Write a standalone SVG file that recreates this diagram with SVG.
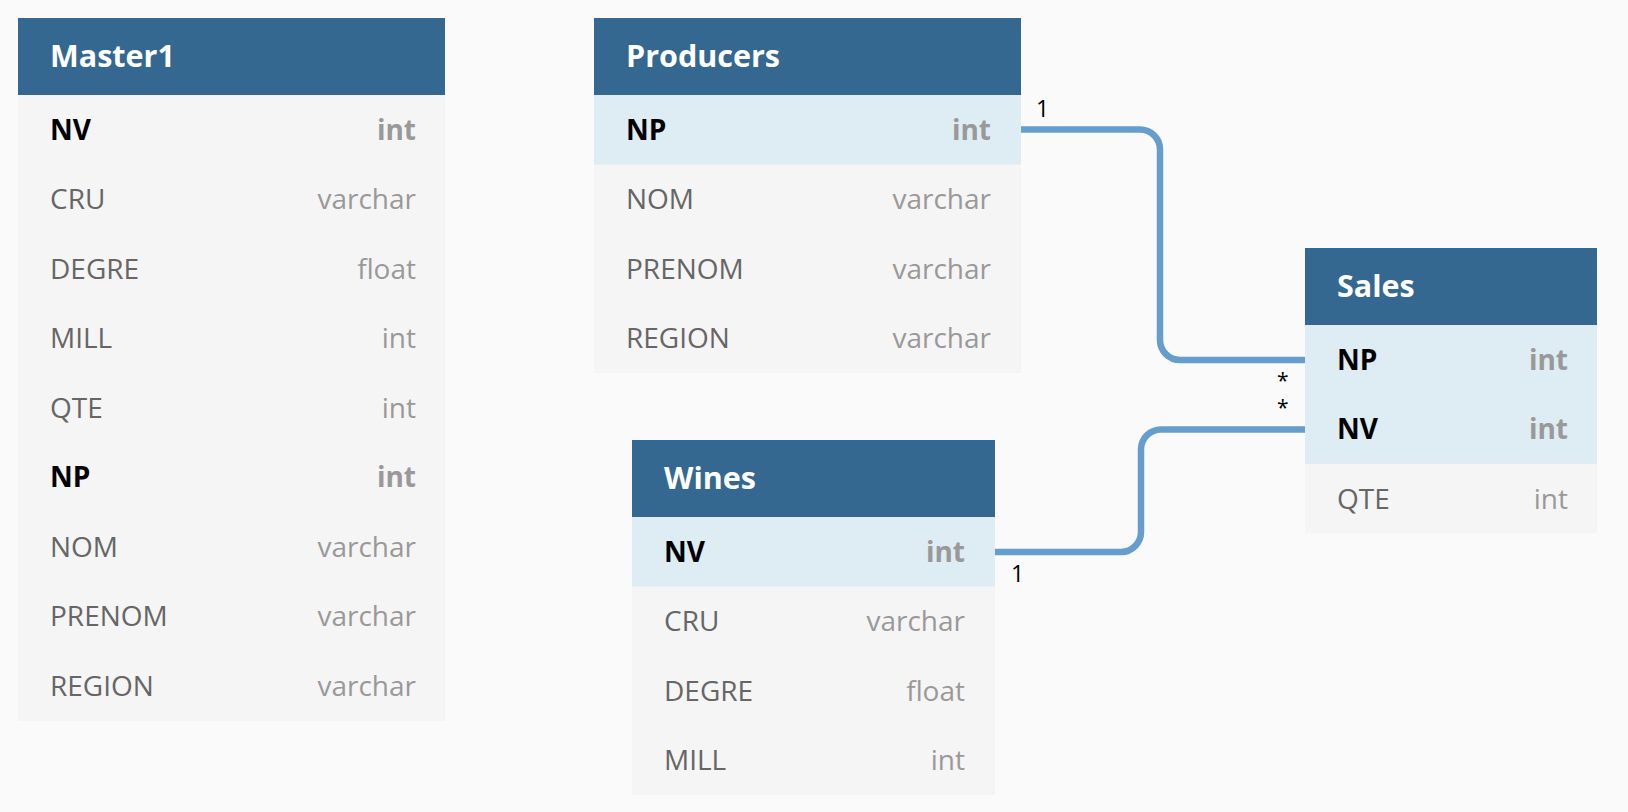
<svg xmlns="http://www.w3.org/2000/svg" width="1628" height="812" viewBox="0 0 1628 812">
<style>
.hdr{fill:#346891}
.row{fill:#f5f5f5}
.key{fill:#deecf4}
.title{font-family:"Open Sans","Noto Sans",sans-serif;font-weight:700;font-size:30.5px;fill:#ffffff}
.fn{font-family:"Open Sans","Noto Sans",sans-serif;font-size:28px;fill:#666666}
.fk{font-family:"Open Sans","Noto Sans",sans-serif;font-size:28px;font-weight:700;fill:#000000}
.tn{font-family:"Open Sans","Noto Sans",sans-serif;font-size:28px;fill:#999999;text-anchor:end}
.tk{font-family:"Open Sans","Noto Sans",sans-serif;font-size:28px;font-weight:700;fill:#999999;text-anchor:end}
.conn{fill:none;stroke:#659ecc;stroke-width:6.5}
.lbl{font-family:"Open Sans","Noto Sans",sans-serif;font-size:23px;fill:#000000}
.ast{font-family:"Open Sans","Noto Sans",sans-serif;font-size:21px;fill:#000000}
</style>
<rect x="0" y="0" width="1628" height="812" fill="#fafafa"/>

<g id="Master1">
<rect x="18" y="95" width="427" height="626" class="row"/>
<rect x="18" y="18" width="427" height="77" class="hdr"/>
<text x="50" y="66.5" class="title">Master1</text>
<text x="50" y="139.75" class="fk">NV</text><text x="416" y="139.75" class="tk">int</text>
<text x="50" y="209.25" class="fn">CRU</text><text x="416" y="209.25" class="tn">varchar</text>
<text x="50" y="278.75" class="fn">DEGRE</text><text x="416" y="278.75" class="tn">float</text>
<text x="50" y="348.25" class="fn">MILL</text><text x="416" y="348.25" class="tn">int</text>
<text x="50" y="417.75" class="fn">QTE</text><text x="416" y="417.75" class="tn">int</text>
<text x="50" y="487.25" class="fk">NP</text><text x="416" y="487.25" class="tk">int</text>
<text x="50" y="556.75" class="fn">NOM</text><text x="416" y="556.75" class="tn">varchar</text>
<text x="50" y="626.25" class="fn">PRENOM</text><text x="416" y="626.25" class="tn">varchar</text>
<text x="50" y="695.75" class="fn">REGION</text><text x="416" y="695.75" class="tn">varchar</text>
</g>

<g id="Producers">
<rect x="594" y="95" width="427" height="278" class="row"/>
<rect x="594" y="95" width="427" height="69.5" class="key"/>
<rect x="594" y="18" width="427" height="77" class="hdr"/>
<text x="626" y="66.5" class="title">Producers</text>
<text x="626" y="139.75" class="fk">NP</text><text x="991" y="139.75" class="tk">int</text>
<text x="626" y="209.25" class="fn">NOM</text><text x="991" y="209.25" class="tn">varchar</text>
<text x="626" y="278.75" class="fn">PRENOM</text><text x="991" y="278.75" class="tn">varchar</text>
<text x="626" y="348.25" class="fn">REGION</text><text x="991" y="348.25" class="tn">varchar</text>
</g>

<g id="Wines">
<rect x="632" y="517" width="363" height="278" class="row"/>
<rect x="632" y="517" width="363" height="69.5" class="key"/>
<rect x="632" y="440" width="363" height="77" class="hdr"/>
<text x="664" y="488.5" class="title">Wines</text>
<text x="664" y="561.75" class="fk">NV</text><text x="965" y="561.75" class="tk">int</text>
<text x="664" y="631.25" class="fn">CRU</text><text x="965" y="631.25" class="tn">varchar</text>
<text x="664" y="700.75" class="fn">DEGRE</text><text x="965" y="700.75" class="tn">float</text>
<text x="664" y="770.25" class="fn">MILL</text><text x="965" y="770.25" class="tn">int</text>
</g>

<g id="Sales">
<rect x="1305" y="325" width="292" height="208.5" class="row"/>
<rect x="1305" y="325" width="292" height="139" class="key"/>
<rect x="1305" y="248" width="292" height="77" class="hdr"/>
<text x="1337" y="296.5" class="title">Sales</text>
<text x="1337" y="369.75" class="fk">NP</text><text x="1568" y="369.75" class="tk">int</text>
<text x="1337" y="439.25" class="fk">NV</text><text x="1568" y="439.25" class="tk">int</text>
<text x="1337" y="508.75" class="fn">QTE</text><text x="1568" y="508.75" class="tn">int</text>
</g>

<g id="connectors">
<path class="conn" d="M1021,129.5 H1140 A20,20 0 0 1 1160,149.5 V340 A20,20 0 0 0 1180,360 H1305"/>
<path class="conn" d="M995,552 H1121 A20,20 0 0 0 1141,532 V449 A20,20 0 0 1 1161,429.5 H1305"/>
<text x="1036" y="117" class="lbl">1</text>
<text x="1277" y="387.5" class="ast">*</text>
<text x="1277" y="414.5" class="ast">*</text>
<text x="1011" y="582" class="lbl">1</text>
</g>
</svg>
